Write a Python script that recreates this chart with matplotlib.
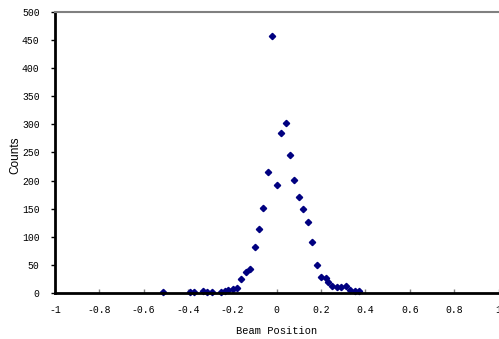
import numpy as np
import matplotlib.pyplot as plt

# beam position histogram
position = [-0.514, -0.392, -0.372, -0.332, -0.314, -0.290, -0.252, -0.234,
            -0.221, -0.198, -0.180, -0.160, -0.138, -0.121, -0.100, -0.080,
            -0.061, -0.040, -0.019, 0.002, 0.020, 0.041, 0.062, 0.080,
            0.099, 0.120, 0.140, 0.161, 0.182, 0.198, 0.224, 0.233,
            0.249, 0.270, 0.291, 0.314, 0.332, 0.351, 0.373]
counts = [1, 2, 2, 4, 2, 1, 1, 4,
          5, 8, 9, 25, 38, 42, 82, 113,
          152, 216, 458, 192, 285, 303, 245, 201,
          171, 150, 126, 91, 50, 28, 27, 20,
          13, 11, 10, 13, 5, 4, 4]

xticks = [-1, -0.8, -0.6, -0.4, -0.2, 0, 0.2, 0.4, 0.6, 0.8, 1]
xticklabels = ['-1', '-0.8', '-0.6', '-0.4', '-0.2', '0', '0.2', '0.4', '0.6', '0.8', '1']
yticks = np.arange(0, 501, 50)

fig = plt.figure(figsize=(4.99, 3.39), dpi=100)
ax = fig.add_axes([0.110, 0.1357, 0.889, 0.829])

ax.plot(position, counts, linestyle='none', marker='D', markersize=3.2,
        color='#000080', markeredgecolor='#000080', clip_on=False)

ax.set_xlim(-1, 1)
ax.set_ylim(0, 500)
ax.set_xticks(xticks)
ax.set_xticklabels(xticklabels)
ax.set_yticks(yticks)

mono = 'Liberation Mono'
for lab in ax.get_xticklabels() + ax.get_yticklabels():
    lab.set_fontfamily(mono)
    lab.set_fontsize(7)

ax.tick_params(axis='x', direction='in', length=3, width=1, color='#808080', pad=9)
ax.tick_params(axis='y', direction='out', length=3, width=1, color='black', pad=8)

ax.spines['left'].set_linewidth(2)
ax.spines['bottom'].set_linewidth(2)
ax.spines['top'].set_color('#808080')
ax.spines['top'].set_linewidth(1.5)
ax.spines['right'].set_visible(False)

# axis titles placed in figure coordinates
fig.text(277 / 499, 1 - 331 / 339, 'Beam Position', fontfamily=mono, fontsize=7.5,
         ha='center', va='center')
fig.text(15 / 499, 1 - 155 / 339, 'Counts', fontfamily='Liberation Sans', fontsize=8.5,
         rotation=90, ha='center', va='center')

plt.savefig('out.png', dpi=100)
